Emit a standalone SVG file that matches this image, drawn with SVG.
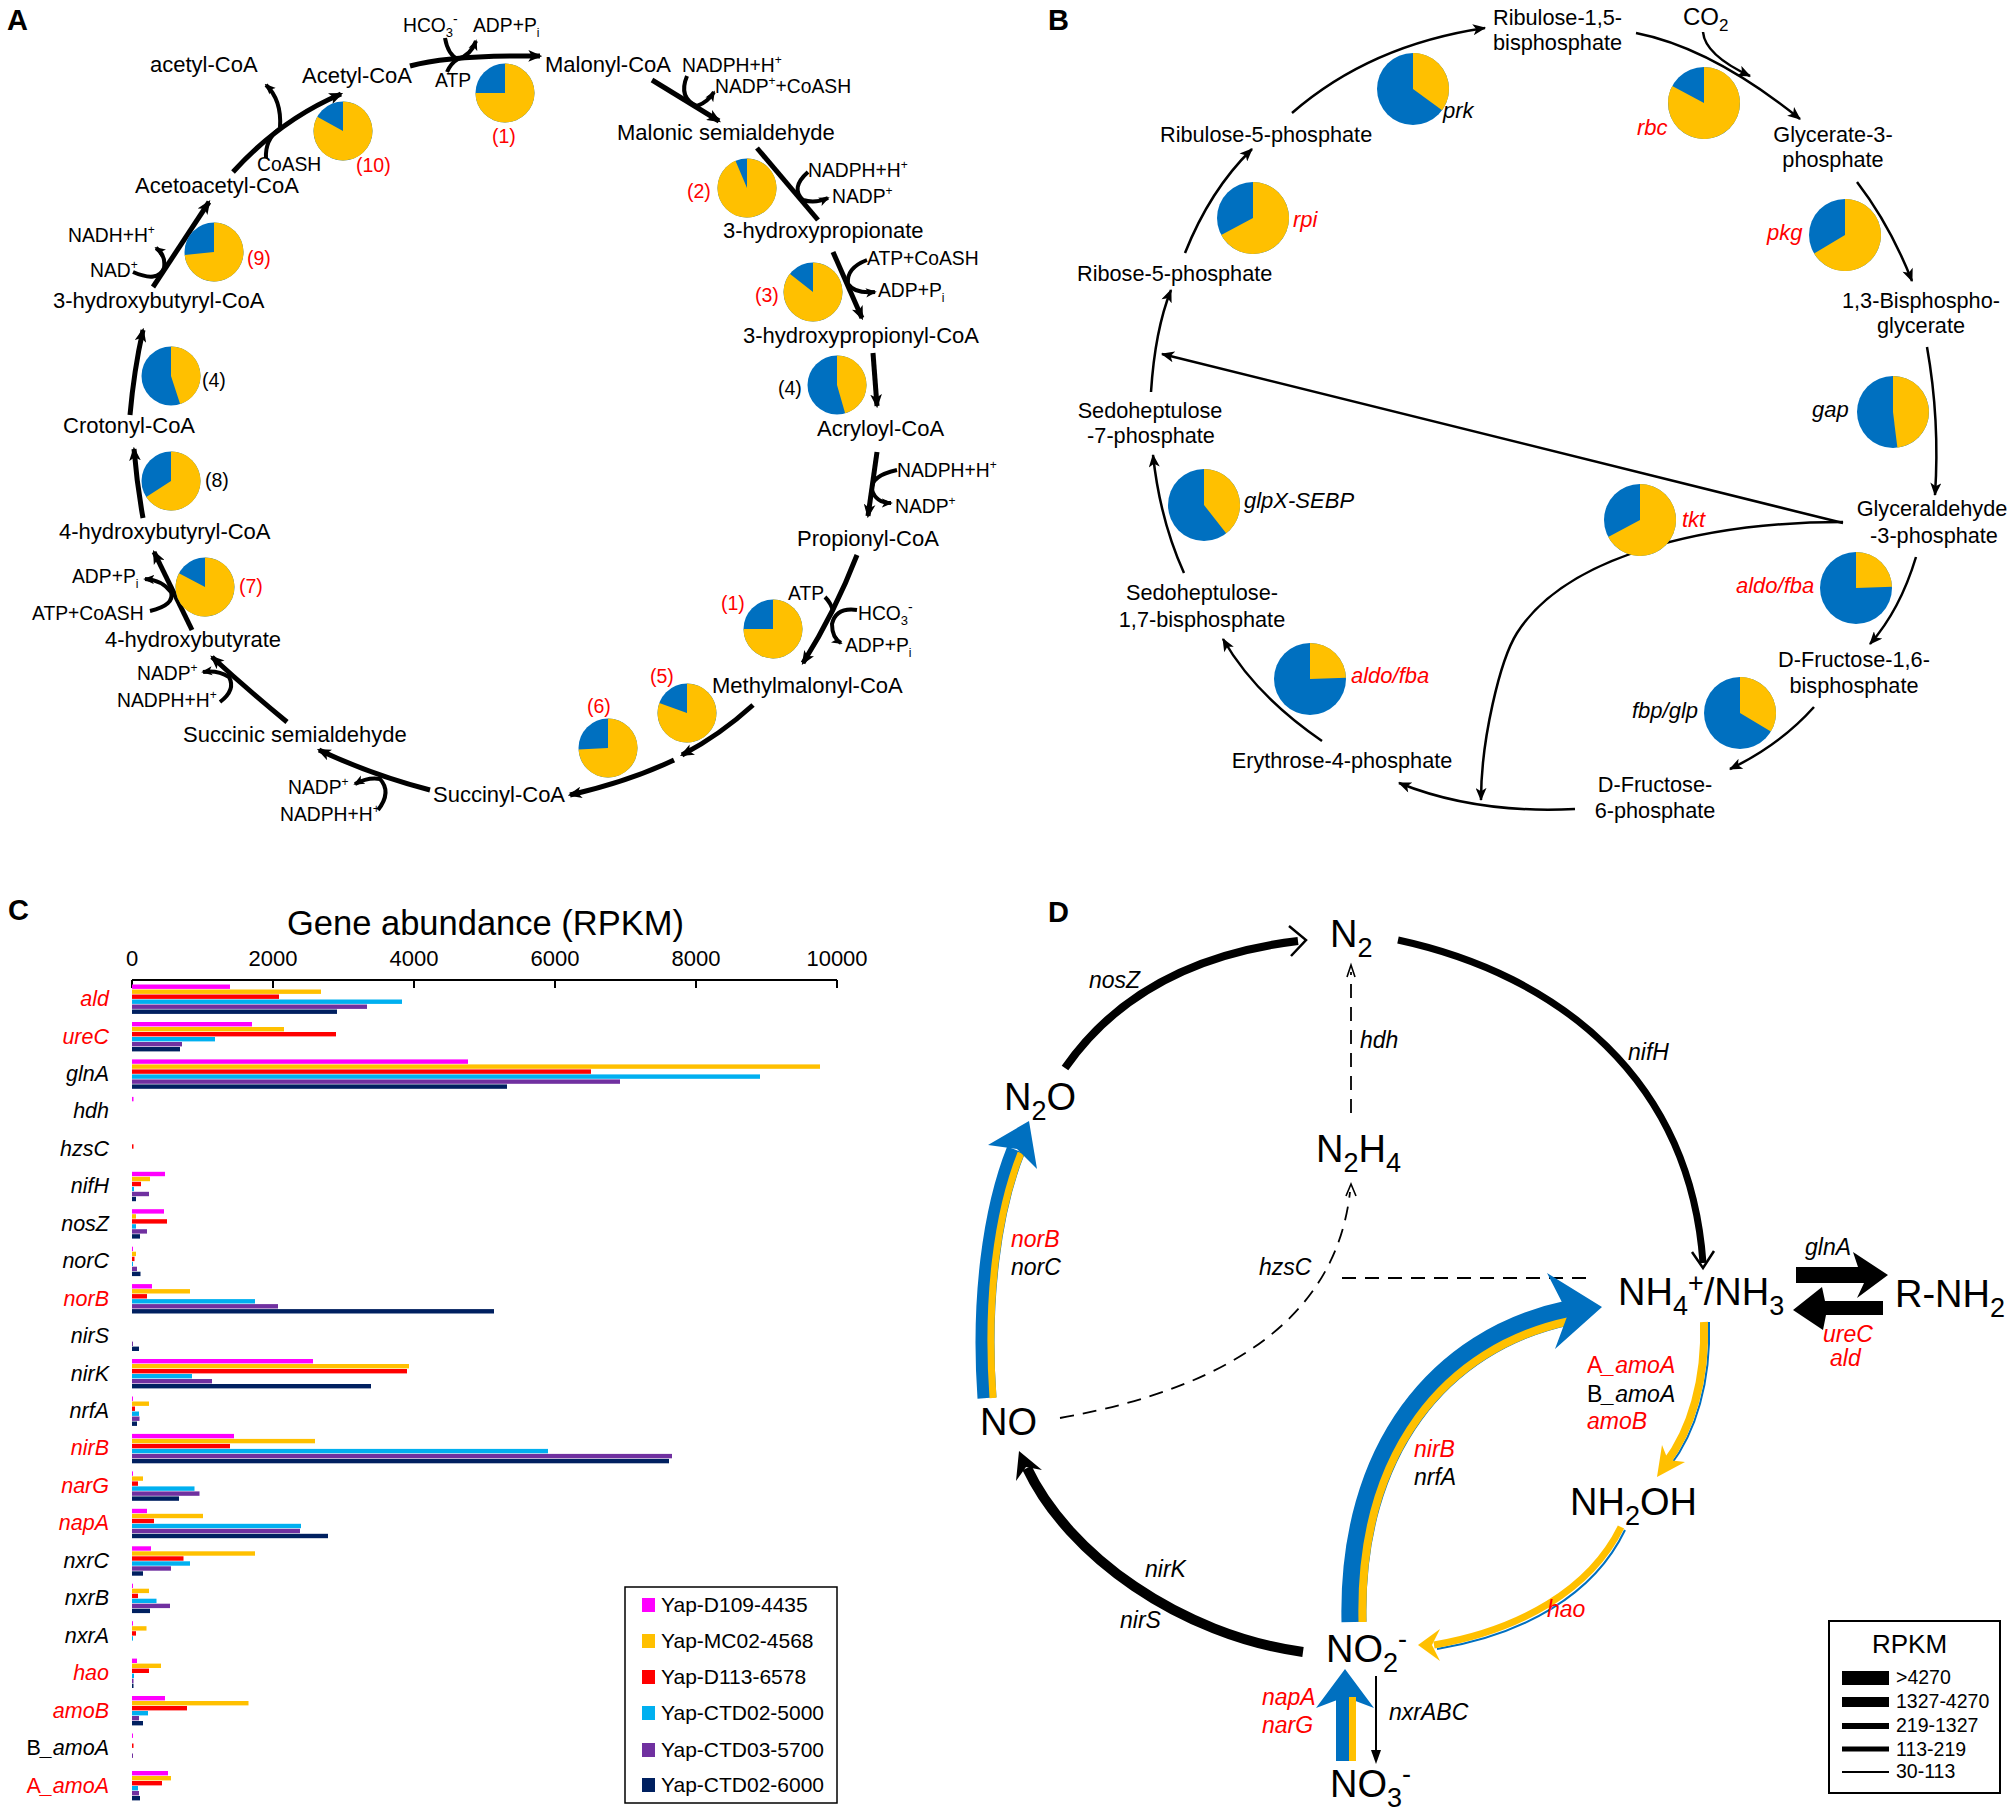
<svg xmlns="http://www.w3.org/2000/svg" width="2008" height="1810" viewBox="0 0 2008 1810">
<style>
text{font-family:"Liberation Sans",Arial,Helvetica,sans-serif;fill:#000}
.m{font-size:22px}
.s{font-size:19.3px}
.n{font-size:19.5px}
.b{font-size:21.7px}
.gi{font-size:22px;font-style:italic}
.ci{font-size:21.5px;font-style:italic}
.di{font-size:23px;font-style:italic}
.ch{font-size:38px}
.red{fill:#FF0000}
.up{font-style:normal}
.pl{font-size:29px;font-weight:bold}
.la{fill:none;stroke:#000;stroke-width:5}
.lb{fill:none;stroke:#000;stroke-width:4}
.lB{fill:none;stroke:#000;stroke-width:2.5}
.pb{fill:#0070C0}
.py{fill:#FFC000}
.k0{fill:#FF00FF}.k1{fill:#FFC000}.k2{fill:#FF0000}.k3{fill:#00B0F0}.k4{fill:#7030A0}.k5{fill:#002060}
.dash{fill:none;stroke:#000;stroke-width:1.8;stroke-dasharray:14 9}
.chev{fill:none;stroke:#000;stroke-width:2.5;stroke-linejoin:miter}
.thin{fill:none;stroke:#000;stroke-width:1.6}
</style>
<defs>
<marker id="ma" viewBox="0 0 12 10" refX="10" refY="5" markerWidth="14" markerHeight="12" markerUnits="userSpaceOnUse" orient="auto"><path d="M0,0 L12,5 L0,10 L3,5 Z" fill="#000"/></marker>
<marker id="ms" viewBox="0 0 12 10" refX="10" refY="5" markerWidth="11" markerHeight="10" markerUnits="userSpaceOnUse" orient="auto"><path d="M0,0 L12,5 L0,10 L3,5 Z" fill="#000"/></marker>
<marker id="mb" viewBox="0 0 12 10" refX="11" refY="5" markerWidth="14" markerHeight="11" markerUnits="userSpaceOnUse" orient="auto"><path d="M0,0 L12,5 L0,10 L3,5 Z" fill="#000"/></marker>
</defs>
<rect width="2008" height="1810" fill="#fff"/>

<!-- ============ PANEL A ============ -->
<text x="7" y="30" class="pl">A</text>
<g id="A-connectors">
<path class="la" d="M410,66 Q450,55 540,56" marker-end="url(#ma)"/>
<path class="la" d="M652,80 L719,121" marker-end="url(#ma)"/>
<path class="la" d="M757,148 L818,220"/>
<path class="la" d="M833,252 L862,318" marker-end="url(#ma)"/>
<path class="la" d="M873,353 L877,406" marker-end="url(#ma)"/>
<path class="la" d="M877,452 L868,516" marker-end="url(#ma)"/>
<path class="la" d="M857,555 Q835,612 803,663" marker-end="url(#ma)"/>
<path class="la" d="M753,705 Q720,735 682,755" marker-end="url(#ma)"/>
<path class="la" d="M674,760 Q630,781 570,795" marker-end="url(#ma)"/>
<path class="la" d="M430,790 Q372,775 319,750" marker-end="url(#ma)"/>
<path class="la" d="M287,722 Q248,690 212,657" marker-end="url(#ma)"/>
<path class="la" d="M192,630 L154,552" marker-end="url(#ma)"/>
<path class="la" d="M143,518 Q137,485 134,449" marker-end="url(#ma)"/>
<path class="la" d="M130,415 Q134,370 143,330" marker-end="url(#ma)"/>
<path class="la" d="M153,287 L209,202" marker-end="url(#ma)"/>
<path class="la" d="M233,172 Q280,120 341,94" marker-end="url(#ma)"/>
<!-- side branches -->
<path class="lb" d="M445,38 Q448,55 458,59"/>
<path class="lb" d="M458,59 Q471,55 476,41" marker-end="url(#ms)"/>
<path class="lb" d="M447,72 Q451,63 458,59"/>
<path class="lb" d="M687,76 Q678,98 697,106 Q708,102 714,92" marker-end="url(#ms)"/>
<path class="lb" d="M808,172 Q790,188 803,200 Q815,204 828,198" marker-end="url(#ms)"/>
<path class="lb" d="M867,260 Q846,268 848,284 Q855,294 875,292" marker-end="url(#ms)"/>
<path class="lb" d="M897,470 Q870,476 872,490 Q876,503 891,503" marker-end="url(#ms)"/>
<path class="lb" d="M825,597 Q831,603 833,611"/>
<path class="lb" d="M857,610 Q836,607 832,624 Q832,638 841,643" marker-end="url(#ms)"/>
<path class="lb" d="M378,810 Q392,792 380,779 Q368,777 355,784" marker-end="url(#ms)"/>
<path class="lb" d="M220,702 Q236,690 229,677 Q218,670 203,672" marker-end="url(#ms)"/>
<path class="lb" d="M150,611 Q175,605 171,592 Q162,580 145,579" marker-end="url(#ms)"/>
<path class="lb" d="M133,272 Q158,283 164,268 Q166,255 156,248" marker-end="url(#ms)"/>
<path class="lb" d="M266,158 Q265,140 279,129"/>
<path class="lb" d="M280,128 Q282,100 266,85" marker-end="url(#ms)"/>
</g>

<g id="A-pies">
<g id="pieA-1a"><circle cx="505" cy="93" r="29.5" class="pb"/><path class="py" d="M505,93 L505,63.5 A29.5,29.5 0 1 1 475.5,93 Z"/></g>
<g id="pieA-2"><circle cx="747" cy="188" r="29.5" class="pb"/><path class="py" d="M747,188 L747,158.5 A29.5,29.5 0 1 1 735.47,160.85 Z"/></g>
<g id="pieA-3"><circle cx="813" cy="292" r="29.5" class="pb"/><path class="py" d="M813,292 L813,262.5 A29.5,29.5 0 1 1 789.75,273.84 Z"/></g>
<g id="pieA-4a"><circle cx="837" cy="385" r="29.5" class="pb"/><path class="py" d="M837,385 L837,355.5 A29.5,29.5 0 0 1 845.13,413.36 Z"/></g>
<g id="pieA-1b"><circle cx="773" cy="629" r="29.5" class="pb"/><path class="py" d="M773,629 L773,599.5 A29.5,29.5 0 1 1 743.5,629 Z"/></g>
<g id="pieA-5"><circle cx="687" cy="713" r="29.5" class="pb"/><path class="py" d="M687,713 L687,683.5 A29.5,29.5 0 1 1 659.28,702.91 Z"/></g>
<g id="pieA-6"><circle cx="608" cy="748" r="29.5" class="pb"/><path class="py" d="M608,748 L608,718.5 A29.5,29.5 0 1 1 578.54,749.54 Z"/></g>
<g id="pieA-8"><circle cx="171" cy="481" r="29.5" class="pb"/><path class="py" d="M171,481 L171,451.5 A29.5,29.5 0 1 1 146.26,497.07 Z"/></g>
<g id="pieA-7"><circle cx="205" cy="587" r="29.5" class="pb"/><path class="py" d="M205,587 L205,557.5 A29.5,29.5 0 1 1 178.95,573.15 Z"/></g>
<g id="pieA-4b"><circle cx="171" cy="376" r="29.5" class="pb"/><path class="py" d="M171,376 L171,346.5 A29.5,29.5 0 0 1 180.12,404.06 Z"/></g>
<g id="pieA-9"><circle cx="214" cy="252" r="29.5" class="pb"/><path class="py" d="M214,252 L214,222.5 A29.5,29.5 0 1 1 184.66,255.08 Z"/></g>
<g id="pieA-10"><circle cx="343" cy="131" r="29.5" class="pb"/><path class="py" d="M343,131 L343,101.5 A29.5,29.5 0 1 1 317.2,116.7 Z"/></g>
</g>

<g id="A-nodes">
<g id="a-acetylCoA-out"><text x="150" y="72" class="m">acetyl-CoA</text></g>
<g id="a-AcetylCoA"><text x="302" y="83" class="m">Acetyl-CoA</text></g>
<g id="a-MalonylCoA"><text x="545" y="72" class="m">Malonyl-CoA</text></g>
<g id="a-MalonicSA"><text x="617" y="140" class="m">Malonic semialdehyde</text></g>
<g id="a-3HP"><text x="723" y="238" class="m">3-hydroxypropionate</text></g>
<g id="a-3HPCoA"><text x="743" y="343" class="m">3-hydroxypropionyl-CoA</text></g>
<g id="a-AcryloylCoA"><text x="817" y="436" class="m">Acryloyl-CoA</text></g>
<g id="a-PropionylCoA"><text x="797" y="546" class="m">Propionyl-CoA</text></g>
<g id="a-MMCoA"><text x="712" y="693" class="m">Methylmalonyl-CoA</text></g>
<g id="a-SuccinylCoA"><text x="433" y="802" class="m">Succinyl-CoA</text></g>
<g id="a-SuccinicSA"><text x="183" y="742" class="m">Succinic semialdehyde</text></g>
<g id="a-4HB"><text x="105" y="647" class="m">4-hydroxybutyrate</text></g>
<g id="a-4HBCoA"><text x="59" y="539" class="m">4-hydroxybutyryl-CoA</text></g>
<g id="a-CrotonylCoA"><text x="63" y="433" class="m">Crotonyl-CoA</text></g>
<g id="a-3HBCoA"><text x="53" y="308" class="m">3-hydroxybutyryl-CoA</text></g>
<g id="a-AcetoacetylCoA"><text x="135" y="193" class="m">Acetoacetyl-CoA</text></g>
</g>

<g id="A-cofactors">
<text x="403" y="32" class="s">HCO<tspan dy="5" font-size="13">3</tspan><tspan dy="-13" font-size="14">-</tspan></text>
<text x="473" y="32" class="s">ADP+P<tspan dy="5" font-size="12">i</tspan></text>
<text x="435" y="87" class="s">ATP</text>
<text x="682" y="72" class="s">NADPH+H<tspan dy="-8" font-size="12">+</tspan></text>
<text x="715" y="93" class="s">NADP<tspan dy="-8" font-size="12">+</tspan><tspan dy="8">+CoASH</tspan></text>
<text x="808" y="177" class="s">NADPH+H<tspan dy="-8" font-size="12">+</tspan></text>
<text x="832" y="203" class="s">NADP<tspan dy="-8" font-size="12">+</tspan></text>
<text x="867" y="265" class="s">ATP+CoASH</text>
<text x="878" y="297" class="s">ADP+P<tspan dy="5" font-size="12">i</tspan></text>
<text x="897" y="477" class="s">NADPH+H<tspan dy="-8" font-size="12">+</tspan></text>
<text x="895" y="513" class="s">NADP<tspan dy="-8" font-size="12">+</tspan></text>
<text x="788" y="600" class="s">ATP</text>
<text x="858" y="620" class="s">HCO<tspan dy="5" font-size="13">3</tspan><tspan dy="-13" font-size="14">-</tspan></text>
<text x="845" y="652" class="s">ADP+P<tspan dy="5" font-size="12">i</tspan></text>
<text x="288" y="794" class="s">NADP<tspan dy="-8" font-size="12">+</tspan></text>
<text x="280" y="821" class="s">NADPH+H<tspan dy="-8" font-size="12">+</tspan></text>
<text x="137" y="680" class="s">NADP<tspan dy="-8" font-size="12">+</tspan></text>
<text x="117" y="707" class="s">NADPH+H<tspan dy="-8" font-size="12">+</tspan></text>
<text x="72" y="583" class="s">ADP+P<tspan dy="5" font-size="12">i</tspan></text>
<text x="32" y="620" class="s">ATP+CoASH</text>
<text x="68" y="242" class="s">NADH+H<tspan dy="-8" font-size="12">+</tspan></text>
<text x="90" y="277" class="s">NAD<tspan dy="-8" font-size="12">+</tspan></text>
<text x="257" y="171" class="s">CoASH</text>
</g>

<g id="A-numbers">
<text x="492" y="143" class="n red">(1)</text>
<text x="687" y="198" class="n red">(2)</text>
<text x="755" y="302" class="n red">(3)</text>
<text x="778" y="395" class="n">(4)</text>
<text x="721" y="610" class="n red">(1)</text>
<text x="650" y="683" class="n red">(5)</text>
<text x="587" y="713" class="n red">(6)</text>
<text x="239" y="593" class="n red">(7)</text>
<text x="205" y="487" class="n">(8)</text>
<text x="202" y="387" class="n">(4)</text>
<text x="247" y="265" class="n red">(9)</text>
<text x="356" y="172" class="n red">(10)</text>
</g>

<!-- ============ PANEL B ============ -->
<text x="1048" y="30" class="pl">B</text>
<g id="B-connectors">
<path class="lB" d="M1292,113 Q1370,45 1485,28" marker-end="url(#mb)"/>
<path class="lB" d="M1185,253 Q1210,190 1252,149" marker-end="url(#mb)"/>
<path class="lB" d="M1151,392 Q1155,330 1171,290" marker-end="url(#mb)"/>
<path class="lB" d="M1184,573 Q1160,520 1153,455" marker-end="url(#mb)"/>
<path class="lB" d="M1322,741 Q1255,695 1223,639" marker-end="url(#mb)"/>
<path class="lB" d="M1575,809 Q1476,814 1399,783" marker-end="url(#mb)"/>
<path class="lB" d="M1843,522 C1720,522 1570,550 1517,633 C1500,660 1481,740 1481,800" marker-end="url(#mb)"/>
<path class="lB" d="M1843,523 L1162,354" marker-end="url(#mb)"/>
<path class="lB" d="M1636,33 Q1712,48 1800,119" marker-end="url(#mb)"/>
<path class="lB" d="M1703,32 Q1705,55 1750,76" marker-end="url(#mb)"/>
<path class="lB" d="M1857,182 Q1890,225 1912,281" marker-end="url(#mb)"/>
<path class="lB" d="M1927,347 Q1940,420 1935,495" marker-end="url(#mb)"/>
<path class="lB" d="M1916,557 Q1900,610 1870,644" marker-end="url(#mb)"/>
<path class="lB" d="M1814,707 Q1780,745 1730,769" marker-end="url(#mb)"/>
</g>

<g id="B-pies">
<g id="pie-prk"><circle cx="1413" cy="89" r="36" class="pb"/><path class="py" d="M1413,89 L1413,53 A36,36 0 0 1 1442.12,110.16 Z"/><text x="1443" y="118" class="gi">prk</text></g>
<g id="pie-rpi"><circle cx="1253" cy="218" r="36" class="pb"/><path class="py" d="M1253,218 L1253,182 A36,36 0 1 1 1221.22,234.9 Z"/><text x="1293" y="227" class="gi red">rpi</text></g>
<g id="pie-rbc"><circle cx="1704" cy="103" r="36" class="pb"/><path class="py" d="M1704,103 L1704,67 A36,36 0 1 1 1672.22,86.1 Z"/><text x="1637" y="135" class="gi red">rbc</text></g>
<g id="pie-pkg"><circle cx="1845" cy="235" r="36" class="pb"/><path class="py" d="M1845,235 L1845,199 A36,36 0 1 1 1814.14,253.54 Z"/><text x="1767" y="240" class="gi red">pkg</text></g>
<g id="pie-gap"><circle cx="1893" cy="412" r="36" class="pb"/><path class="py" d="M1893,412 L1893,376 A36,36 0 0 1 1897.39,447.73 Z"/><text x="1812" y="417" class="gi">gap</text></g>
<g id="pie-tkt"><circle cx="1640" cy="520" r="36" class="pb"/><path class="py" d="M1640,520 L1640,484 A36,36 0 1 1 1608.22,536.9 Z"/><text x="1682" y="527" class="gi red">tkt</text></g>
<g id="pie-glpX"><circle cx="1204" cy="505" r="36" class="pb"/><path class="py" d="M1204,505 L1204,469 A36,36 0 0 1 1226.16,533.37 Z"/><text x="1244" y="508" class="gi">glpX-SEBP</text></g>
<g id="pie-aldo1"><circle cx="1310" cy="679" r="36" class="pb"/><path class="py" d="M1310,679 L1310,643 A36,36 0 0 1 1345.98,677.74 Z"/><text x="1351" y="683" class="gi red">aldo/fba</text></g>
<g id="pie-aldo2"><circle cx="1856" cy="588" r="36" class="pb"/><path class="py" d="M1856,588 L1856,552 A36,36 0 0 1 1891.98,586.74 Z"/><text x="1736" y="593" class="gi red">aldo/fba</text></g>
<g id="pie-fbp"><circle cx="1740" cy="713" r="36" class="pb"/><path class="py" d="M1740,713 L1740,677 A36,36 0 0 1 1770.86,731.54 Z"/><text x="1632" y="718" class="gi">fbp/glp</text></g>
</g>

<g id="B-nodes">
<g id="b-RuBP"><text x="1493" y="25" class="b">Ribulose-1,5-</text><text x="1493" y="50" class="b">bisphosphate</text></g>
<g id="b-CO2"><text x="1683" y="25" style="font-size:24px">CO<tspan dy="6" font-size="17">2</tspan></text></g>
<g id="b-G3P"><text x="1833" y="142" class="b" text-anchor="middle">Glycerate-3-</text><text x="1833" y="167" class="b" text-anchor="middle">phosphate</text></g>
<g id="b-BPG"><text x="1921" y="308" class="b" text-anchor="middle">1,3-Bisphospho-</text><text x="1921" y="333" class="b" text-anchor="middle">glycerate</text></g>
<g id="b-GAP"><text x="1932" y="516" class="b" text-anchor="middle">Glyceraldehyde</text><text x="1934" y="543" class="b" text-anchor="middle">-3-phosphate</text></g>
<g id="b-FBP"><text x="1854" y="667" class="b" text-anchor="middle">D-Fructose-1,6-</text><text x="1854" y="693" class="b" text-anchor="middle">bisphosphate</text></g>
<g id="b-F6P"><text x="1655" y="792" class="b" text-anchor="middle">D-Fructose-</text><text x="1655" y="818" class="b" text-anchor="middle">6-phosphate</text></g>
<g id="b-E4P"><text x="1342" y="768" class="b" text-anchor="middle">Erythrose-4-phosphate</text></g>
<g id="b-SBP"><text x="1202" y="600" class="b" text-anchor="middle">Sedoheptulose-</text><text x="1202" y="627" class="b" text-anchor="middle">1,7-bisphosphate</text></g>
<g id="b-S7P"><text x="1150" y="418" class="b" text-anchor="middle">Sedoheptulose</text><text x="1151" y="443" class="b" text-anchor="middle">-7-phosphate</text></g>
<g id="b-R5P"><text x="1077" y="281" class="b">Ribose-5-phosphate</text></g>
<g id="b-Ru5P"><text x="1160" y="142" class="b">Ribulose-5-phosphate</text></g>
</g>

<!-- ============ PANEL C ============ -->
<text x="8" y="920" class="pl">C</text>
<g id="C-axis">
<text x="287" y="935" style="font-size:34.5px">Gene abundance (RPKM)</text>
<g style="font-size:22px" text-anchor="middle">
<text x="132" y="966">0</text><text x="273" y="966">2000</text><text x="414" y="966">4000</text><text x="555" y="966">6000</text><text x="696" y="966">8000</text><text x="837" y="966">10000</text>
</g>
<path d="M132,980 H837 M132,980 V988 M273,980 V988 M414,980 V988 M555,980 V988 M696,980 V988 M837,980 V988" fill="none" stroke="#000" stroke-width="2"/>
</g>
<g id="C-labels" class="ci" text-anchor="end">
<text x="109" y="1006" class="ci red">ald</text>
<text x="109" y="1043.5" class="ci red">ureC</text>
<text x="109" y="1081" class="ci">glnA</text>
<text x="109" y="1118.4" class="ci">hdh</text>
<text x="109" y="1155.8" class="ci">hzsC</text>
<text x="109" y="1193.3" class="ci">nifH</text>
<text x="109" y="1230.7" class="ci">nosZ</text>
<text x="109" y="1268.2" class="ci">norC</text>
<text x="109" y="1305.6" class="ci red">norB</text>
<text x="109" y="1343" class="ci">nirS</text>
<text x="109" y="1380.5" class="ci">nirK</text>
<text x="109" y="1418" class="ci">nrfA</text>
<text x="109" y="1455.4" class="ci red">nirB</text>
<text x="109" y="1492.9" class="ci red">narG</text>
<text x="109" y="1530.3" class="ci red">napA</text>
<text x="109" y="1567.8" class="ci">nxrC</text>
<text x="109" y="1605.2" class="ci">nxrB</text>
<text x="109" y="1642.7" class="ci">nxrA</text>
<text x="109" y="1680.1" class="ci red">hao</text>
<text x="109" y="1717.6" class="ci red">amoB</text>
<text x="109" y="1755" class="ci"><tspan class="up">B</tspan>_amoA</text>
<text x="109" y="1792.5" class="ci red"><tspan class="up">A</tspan>_amoA</text>
</g>
<g id="C-bars">
<g transform="translate(132,984.5)"><rect y="0" width="98" height="4.4" class="k0"/><rect y="5" width="189" height="4.4" class="k1"/><rect y="10" width="147" height="4.4" class="k2"/><rect y="15" width="270" height="4.4" class="k3"/><rect y="20" width="235" height="4.4" class="k4"/><rect y="25" width="205" height="4.4" class="k5"/></g>
<g transform="translate(132,1022)"><rect y="0" width="120" height="4.4" class="k0"/><rect y="5" width="152" height="4.4" class="k1"/><rect y="10" width="204" height="4.4" class="k2"/><rect y="15" width="83" height="4.4" class="k3"/><rect y="20" width="50" height="4.4" class="k4"/><rect y="25" width="48" height="4.4" class="k5"/></g>
<g transform="translate(132,1059.4)"><rect y="0" width="336" height="4.4" class="k0"/><rect y="5" width="688" height="4.4" class="k1"/><rect y="10" width="459" height="4.4" class="k2"/><rect y="15" width="628" height="4.4" class="k3"/><rect y="20" width="488" height="4.4" class="k4"/><rect y="25" width="375" height="4.4" class="k5"/></g>
<g transform="translate(132,1096.9)"><rect y="0" width="1.5" height="4.4" class="k0"/></g>
<g transform="translate(132,1134.3)"><rect y="10" width="1.5" height="4.4" class="k2"/></g>
<g transform="translate(132,1171.8)"><rect y="0" width="33" height="4.4" class="k0"/><rect y="5" width="18" height="4.4" class="k1"/><rect y="10" width="9" height="4.4" class="k2"/><rect y="15" width="2" height="4.4" class="k3"/><rect y="20" width="17" height="4.4" class="k4"/><rect y="25" width="4" height="4.4" class="k5"/></g>
<g transform="translate(132,1209.2)"><rect y="0" width="32" height="4.4" class="k0"/><rect y="5" width="4" height="4.4" class="k1"/><rect y="10" width="35" height="4.4" class="k2"/><rect y="15" width="4" height="4.4" class="k3"/><rect y="20" width="15" height="4.4" class="k4"/><rect y="25" width="8" height="4.4" class="k5"/></g>
<g transform="translate(132,1246.7)"><rect y="0" width="1" height="4.4" class="k0"/><rect y="5" width="4" height="4.4" class="k1"/><rect y="10" width="2.5" height="4.4" class="k2"/><rect y="15" width="1" height="4.4" class="k3"/><rect y="20" width="5" height="4.4" class="k4"/><rect y="25" width="8.5" height="4.4" class="k5"/></g>
<g transform="translate(132,1284.1)"><rect y="0" width="20" height="4.4" class="k0"/><rect y="5" width="58" height="4.4" class="k1"/><rect y="10" width="15" height="4.4" class="k2"/><rect y="15" width="123" height="4.4" class="k3"/><rect y="20" width="146" height="4.4" class="k4"/><rect y="25" width="362" height="4.4" class="k5"/></g>
<g transform="translate(132,1321.6)"><rect y="20" width="1" height="4.4" class="k4"/><rect y="25" width="7" height="4.4" class="k5"/></g>
<g transform="translate(132,1359)"><rect y="0" width="181" height="4.4" class="k0"/><rect y="5" width="277" height="4.4" class="k1"/><rect y="10" width="275" height="4.4" class="k2"/><rect y="15" width="60" height="4.4" class="k3"/><rect y="20" width="80" height="4.4" class="k4"/><rect y="25" width="239" height="4.4" class="k5"/></g>
<g transform="translate(132,1396.5)"><rect y="0" width="1" height="4.4" class="k0"/><rect y="5" width="17" height="4.4" class="k1"/><rect y="10" width="3" height="4.4" class="k2"/><rect y="15" width="7" height="4.4" class="k3"/><rect y="20" width="7.5" height="4.4" class="k4"/><rect y="25" width="5" height="4.4" class="k5"/></g>
<g transform="translate(132,1433.9)"><rect y="0" width="102" height="4.4" class="k0"/><rect y="5" width="183" height="4.4" class="k1"/><rect y="10" width="98" height="4.4" class="k2"/><rect y="15" width="416" height="4.4" class="k3"/><rect y="20" width="540" height="4.4" class="k4"/><rect y="25" width="537" height="4.4" class="k5"/></g>
<g transform="translate(132,1471.4)"><rect y="0" width="1" height="4.4" class="k0"/><rect y="5" width="11" height="4.4" class="k1"/><rect y="10" width="6" height="4.4" class="k2"/><rect y="15" width="62.5" height="4.4" class="k3"/><rect y="20" width="67.5" height="4.4" class="k4"/><rect y="25" width="47" height="4.4" class="k5"/></g>
<g transform="translate(132,1508.8)"><rect y="0" width="15" height="4.4" class="k0"/><rect y="5" width="71" height="4.4" class="k1"/><rect y="10" width="22" height="4.4" class="k2"/><rect y="15" width="169" height="4.4" class="k3"/><rect y="20" width="168" height="4.4" class="k4"/><rect y="25" width="196" height="4.4" class="k5"/></g>
<g transform="translate(132,1546.3)"><rect y="0" width="19" height="4.4" class="k0"/><rect y="5" width="123" height="4.4" class="k1"/><rect y="10" width="51.5" height="4.4" class="k2"/><rect y="15" width="58" height="4.4" class="k3"/><rect y="20" width="39" height="4.4" class="k4"/><rect y="25" width="11" height="4.4" class="k5"/></g>
<g transform="translate(132,1583.7)"><rect y="0" width="1" height="4.4" class="k0"/><rect y="5" width="17" height="4.4" class="k1"/><rect y="10" width="6" height="4.4" class="k2"/><rect y="15" width="24.5" height="4.4" class="k3"/><rect y="20" width="38" height="4.4" class="k4"/><rect y="25" width="18" height="4.4" class="k5"/></g>
<g transform="translate(132,1621.2)"><rect y="0" width="1" height="4.4" class="k0"/><rect y="5" width="14.5" height="4.4" class="k1"/><rect y="10" width="4" height="4.4" class="k2"/><rect y="15" width="1" height="4.4" class="k3"/></g>
<g transform="translate(132,1658.6)"><rect y="0" width="5" height="4.4" class="k0"/><rect y="5" width="29" height="4.4" class="k1"/><rect y="10" width="17" height="4.4" class="k2"/><rect y="15" width="2" height="4.4" class="k3"/><rect y="20" width="1.5" height="4.4" class="k4"/><rect y="25" width="1.5" height="4.4" class="k5"/></g>
<g transform="translate(132,1696)"><rect y="0" width="33" height="4.4" class="k0"/><rect y="5" width="116.5" height="4.4" class="k1"/><rect y="10" width="55" height="4.4" class="k2"/><rect y="15" width="16" height="4.4" class="k3"/><rect y="20" width="7" height="4.4" class="k4"/><rect y="25" width="11" height="4.4" class="k5"/></g>
<g transform="translate(132,1733.5)"><rect y="0" width="1" height="4.4" class="k0"/><rect y="10" width="1.5" height="4.4" class="k2"/><rect y="20" width="1" height="4.4" class="k4"/></g>
<g transform="translate(132,1771)"><rect y="0" width="36" height="4.4" class="k0"/><rect y="5" width="39" height="4.4" class="k1"/><rect y="10" width="30" height="4.4" class="k2"/><rect y="15" width="6" height="4.4" class="k3"/><rect y="20" width="7" height="4.4" class="k4"/><rect y="25" width="8" height="4.4" class="k5"/></g>
</g>
<g id="C-legend">
<rect x="625" y="1587" width="212" height="216" fill="#fff" stroke="#000" stroke-width="1.5"/>
<rect x="642" y="1598" width="13" height="14" class="k0"/><text x="661" y="1612" style="font-size:21px">Yap-D109-4435</text>
<rect x="642" y="1634" width="13" height="14" class="k1"/><text x="661" y="1648" style="font-size:21px">Yap-MC02-4568</text>
<rect x="642" y="1670" width="13" height="14" class="k2"/><text x="661" y="1684" style="font-size:21px">Yap-D113-6578</text>
<rect x="642" y="1706" width="13" height="14" class="k3"/><text x="661" y="1720" style="font-size:21px">Yap-CTD02-5000</text>
<rect x="642" y="1743" width="13" height="14" class="k4"/><text x="661" y="1757" style="font-size:21px">Yap-CTD03-5700</text>
<rect x="642" y="1778" width="13" height="14" class="k5"/><text x="661" y="1792" style="font-size:21px">Yap-CTD02-6000</text>
</g>

<!-- ============ PANEL D ============ -->
<text x="1048" y="922" class="pl">D</text>
<g id="D-connectors">
<!-- nosZ -->
<path d="M1065,1068 Q1140,960 1298,941" fill="none" stroke="#000" stroke-width="8"/>
<polyline class="chev" points="1289,926 1306,940 1291,956"/>
<!-- nifH -->
<path d="M1398,940 C1560,975 1690,1080 1703,1263" fill="none" stroke="#000" stroke-width="7"/>
<polyline class="chev" points="1692,1252 1703,1268 1714,1251"/>
<!-- hdh dashed -->
<path class="dash" d="M1351,1113 L1351,972"/>
<polyline class="thin" points="1347,977 1351,965 1355,977"/>
<!-- hzsC dashed -->
<path class="dash" d="M1060,1418 Q1330,1370 1350,1192"/>
<polyline class="thin" points="1346,1196 1351,1184 1356,1196"/>
<path class="dash" d="M1342,1278 L1594,1278"/>
<!-- norB / norC -->
<path d="M987,1398 C980,1300 992,1210 1016,1150" fill="none" stroke="#0070C0" stroke-width="19"/>
<path d="M993,1398 C986,1300 997,1213 1021,1153" fill="none" stroke="#FFC000" stroke-width="7"/>
<polygon points="1029,1121 1037,1169 1017,1149 988,1145" fill="#0070C0"/>
<!-- nirB / nrfA -->
<path d="M1354,1622 C1350,1450 1440,1340 1568,1313" fill="none" stroke="#0070C0" stroke-width="25"/>
<path d="M1362.5,1622 C1358.5,1452 1446,1347 1570,1321" fill="none" stroke="#FFC000" stroke-width="8"/>
<polygon points="1602,1307 1555,1349 1568,1314 1547,1273" fill="#0070C0"/>
<!-- napA narG -->
<polygon points="1345,1669 1374,1708 1345,1697 1316,1708" fill="#0070C0"/>
<rect x="1336" y="1696" width="13" height="65" fill="#0070C0"/>
<rect x="1349" y="1697" width="7" height="64" fill="#FFC000"/>
<!-- nxrABC -->
<path d="M1376,1676 L1376,1752" fill="none" stroke="#000" stroke-width="2"/>
<polygon points="1371,1750 1376,1764 1381,1750" fill="#000"/>
<!-- nirK nirS -->
<path d="M1303,1652 C1180,1635 1068,1555 1027,1468" fill="none" stroke="#000" stroke-width="10"/>
<polygon points="1019,1451 1042,1470 1026,1467 1016,1481" fill="#000"/>
<!-- hao -->
<path d="M1625,1530 C1594,1595 1523,1635 1437,1649" fill="none" stroke="#0070C0" stroke-width="2"/>
<path d="M1621,1527 C1590,1590 1520,1630 1434,1645" fill="none" stroke="#FFC000" stroke-width="7"/>
<polygon points="1418,1645 1440,1629 1432,1645 1440,1661" fill="#FFC000"/>
<!-- amoA/amoB -->
<path d="M1709,1322 C1711,1382 1696,1432 1670,1466" fill="none" stroke="#0070C0" stroke-width="2"/>
<path d="M1704,1322 C1706,1380 1691,1430 1666,1463" fill="none" stroke="#FFC000" stroke-width="8"/>
<polygon points="1657,1477 1662,1445 1668,1460 1685,1462" fill="#FFC000"/>
<!-- glnA / ureC -->
<polygon points="1796,1267 1858,1267 1853,1252 1888,1275 1857,1298 1864,1283 1796,1283" fill="#000"/>
<polygon points="1883,1301 1825,1301 1822,1287 1793,1310 1823,1330 1826,1315 1883,1315" fill="#000"/>
</g>

<g id="D-nodes">
<g id="d-N2"><text x="1330" y="947" class="ch">N<tspan dy="10" font-size="27">2</tspan></text></g>
<g id="d-N2O"><text x="1004" y="1110" class="ch">N<tspan dy="10" font-size="27">2</tspan><tspan dy="-10">O</tspan></text></g>
<g id="d-N2H4"><text x="1316" y="1162" class="ch">N<tspan dy="10" font-size="27">2</tspan><tspan dy="-10">H</tspan><tspan dy="10" font-size="27">4</tspan></text></g>
<g id="d-NO"><text x="980" y="1435" class="ch">NO</text></g>
<g id="d-NH4"><text x="1618" y="1305" class="ch">NH<tspan dy="10" font-size="27">4</tspan><tspan dy="-23" font-size="27">+</tspan><tspan dy="13">/NH</tspan><tspan dy="10" font-size="27">3</tspan></text></g>
<g id="d-RNH2"><text x="1895" y="1307" class="ch">R-NH<tspan dy="10" font-size="27">2</tspan></text></g>
<g id="d-NH2OH"><text x="1570" y="1515" class="ch">NH<tspan dy="10" font-size="27">2</tspan><tspan dy="-10">OH</tspan></text></g>
<g id="d-NO2"><text x="1326" y="1662" class="ch">NO<tspan dy="10" font-size="27">2</tspan><tspan dy="-24" font-size="27">-</tspan></text></g>
<g id="d-NO3"><text x="1330" y="1797" class="ch">NO<tspan dy="10" font-size="27">3</tspan><tspan dy="-24" font-size="27">-</tspan></text></g>
</g>

<g id="D-genes">
<text x="1089" y="988" class="di">nosZ</text>
<text x="1628" y="1060" class="di">nifH</text>
<text x="1360" y="1048" class="di">hdh</text>
<text x="1259" y="1275" class="di">hzsC</text>
<text x="1011" y="1247" class="di red">norB</text>
<text x="1011" y="1275" class="di">norC</text>
<text x="1414" y="1457" class="di red">nirB</text>
<text x="1414" y="1485" class="di">nrfA</text>
<text x="1587" y="1373" class="di red"><tspan class="up">A</tspan>_amoA</text>
<text x="1587" y="1402" class="di"><tspan class="up">B</tspan>_amoA</text>
<text x="1587" y="1429" class="di red">amoB</text>
<text x="1805" y="1255" class="di">glnA</text>
<text x="1823" y="1342" class="di red">ureC</text>
<text x="1830" y="1366" class="di red">ald</text>
<text x="1547" y="1617" class="di red">hao</text>
<text x="1145" y="1577" class="di">nirK</text>
<text x="1120" y="1628" class="di">nirS</text>
<text x="1262" y="1705" class="di red">napA</text>
<text x="1262" y="1733" class="di red">narG</text>
<text x="1389" y="1720" class="di">nxrABC</text>
</g>

<g id="D-legend">
<rect x="1829" y="1621" width="171" height="172" fill="#fff" stroke="#000" stroke-width="2"/>
<text x="1872" y="1653" style="font-size:26px">RPKM</text>
<rect x="1842" y="1671" width="47" height="14" fill="#000"/>
<rect x="1842" y="1697" width="47" height="10" fill="#000"/>
<rect x="1842" y="1723" width="47" height="6" fill="#000"/>
<rect x="1842" y="1746.5" width="47" height="5" fill="#000"/>
<rect x="1842" y="1771" width="47" height="2" fill="#000"/>
<text x="1896" y="1684" style="font-size:19.5px">&gt;4270</text>
<text x="1896" y="1708" style="font-size:19.5px">1327-4270</text>
<text x="1896" y="1732" style="font-size:19.5px">219-1327</text>
<text x="1896" y="1756" style="font-size:19.5px">113-219</text>
<text x="1896" y="1778" style="font-size:19.5px">30-113</text>
</g>
</svg>
